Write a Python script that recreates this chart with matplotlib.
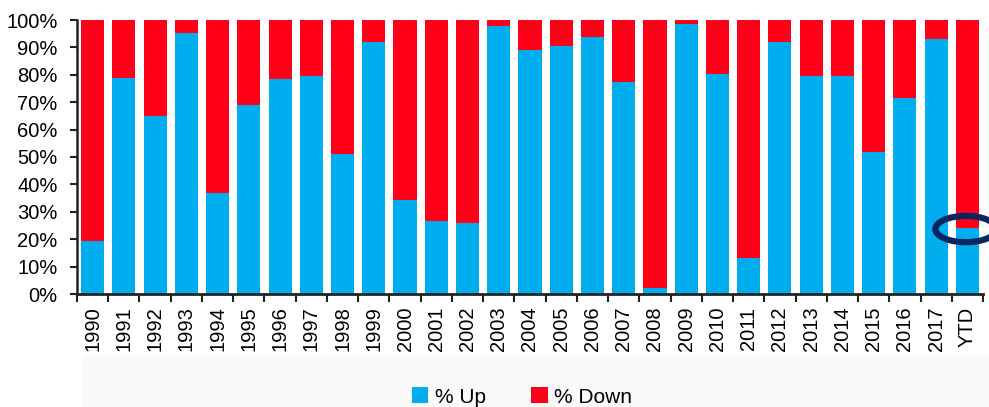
import matplotlib
matplotlib.use("Agg")
import matplotlib.pyplot as plt
from matplotlib.patches import Ellipse, Rectangle
from matplotlib.ticker import FixedLocator, PercentFormatter

# Share of stocks up vs down per year
years = ['1990', '1991', '1992', '1993', '1994', '1995', '1996', '1997', '1998', '1999',
         '2000', '2001', '2002', '2003', '2004', '2005', '2006', '2007', '2008', '2009',
         '2010', '2011', '2012', '2013', '2014', '2015', '2016', '2017', 'YTD']
pct_up = [19.5, 78.8, 65.1, 95.4, 36.7, 69.1, 78.6, 79.4, 51.0, 92.1,
          34.3, 26.6, 25.8, 97.8, 89.1, 90.6, 93.7, 77.3, 2.1, 98.5,
          80.3, 13.0, 92.1, 79.4, 79.4, 51.7, 71.5, 92.9, 24.0]
pct_down = [100 - v for v in pct_up]

blue = '#00AEEF'
red = '#FF0019'
navy = '#0B2561'

plt.rcParams['font.family'] = ['Liberation Sans', 'DejaVu Sans']

fig = plt.figure(figsize=(9.89, 4.07), dpi=100)
# faint grey band behind the legend
fig.patches.append(Rectangle((82 / 989, 0), 1, 52 / 407, transform=fig.transFigure,
                             facecolor='#fafafa', edgecolor='none', zorder=0))

ax = fig.add_axes([77 / 989, 1 - 294 / 407, 906 / 989, 274 / 407])
x = list(range(len(years)))
ax.bar(x, pct_up, width=0.74, color=blue, label='% Up', zorder=2)
ax.bar(x, pct_down, width=0.74, bottom=pct_up, color=red, label='% Down', zorder=2)

ax.set_xlim(-0.5, len(years) - 0.5)
ax.set_ylim(0, 100)
ax.set_yticks(range(0, 101, 10))
ax.yaxis.set_major_formatter(PercentFormatter(decimals=0))

# category labels centred, tick marks between categories
ax.set_xticks(x)
ax.set_xticklabels(years, rotation=90, fontsize=14.5)
ax.tick_params(axis='x', which='major', length=0, pad=9)
ax.xaxis.set_minor_locator(FixedLocator([i - 0.5 for i in range(len(years) + 1)]))
ax.tick_params(axis='x', which='minor', length=6, width=1.5, color='#222222')
ax.tick_params(axis='y', labelsize=14.5, length=5, width=1.5, color='#222222', pad=9)

for s in ['top', 'right']:
    ax.spines[s].set_visible(False)
ax.spines['left'].set_linewidth(1.8)
ax.spines['bottom'].set_linewidth(2)
ax.spines['left'].set_color('#222222')
ax.spines['bottom'].set_color('#222222')

# highlight on the year-to-date bar
ax.add_patch(Ellipse((27.95, pct_up[-1] - 0.3), 1.95, 9.6, fill=False, edgecolor=navy,
                     linewidth=4.5, clip_on=False, zorder=5))

fig.legend(loc='center', bbox_to_anchor=(522 / 989, 1 - 397 / 407), ncol=2, frameon=False,
           handlelength=0.8, handleheight=0.8, handletextpad=0.3, columnspacing=2.2,
           prop={'family': ['Liberation Sans Narrow', 'Liberation Sans'], 'size': 15})

fig.savefig('out.png', dpi=100)
